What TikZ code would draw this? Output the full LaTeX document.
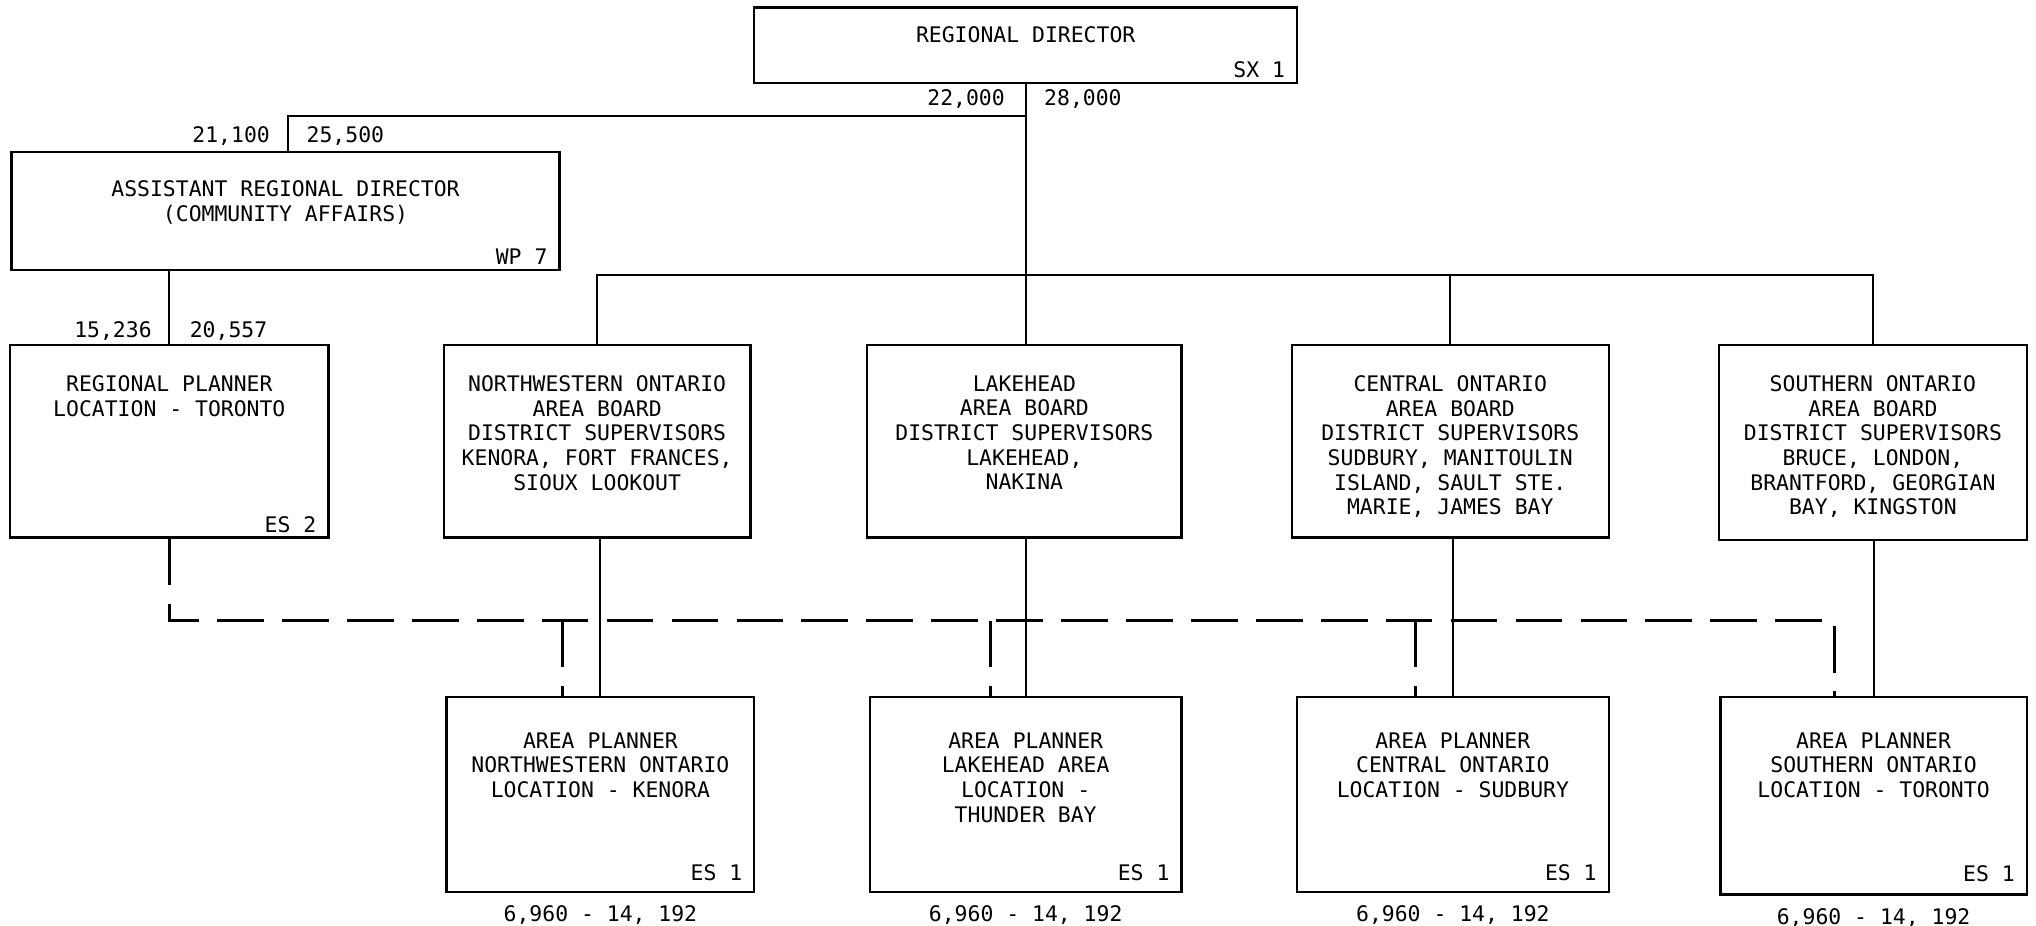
\documentclass[tikz,border=0pt]{standalone}
\usepackage{fontspec}
\setmonofont{DejaVu Sans Mono}
\begin{document}
\begin{tikzpicture}[x=1pt,y=-1pt,
  box/.style={draw, line width=1.8pt, inner sep=0pt, anchor=north west},
  txt/.style={font=\ttfamily\fontsize{16.5}{19}\selectfont, align=center, inner sep=0pt, anchor=north},
  grade/.style={font=\ttfamily\fontsize{16.5}{19}\selectfont, inner sep=0pt, anchor=base east},
  payl/.style={font=\ttfamily\fontsize{16.5}{19}\selectfont, inner sep=0pt, anchor=base east},
  payr/.style={font=\ttfamily\fontsize{16.5}{19}\selectfont, inner sep=0pt, anchor=base west},
  pay/.style={font=\ttfamily\fontsize{16.5}{19}\selectfont, inner sep=0pt, anchor=base},
  link/.style={line width=1.5pt},
  planlink/.style={line width=2.2pt, dash pattern=on 36pt off 14pt}
]
\useasboundingbox (0,0) rectangle (1568,713);

% --- boxes ---
\node[box, minimum width=418pt, minimum height=58pt] (dir) at (580,5) {};
\node[box, minimum width=422pt, minimum height=91pt] (ast) at (8,116) {};
\node[box, minimum width=245pt, minimum height=148pt] (rp) at (7,265) {};
\node[box, minimum width=236pt, minimum height=148pt] (nw) at (341,265) {};
\node[box, minimum width=242pt, minimum height=148pt] (lk) at (667,265) {};
\node[box, minimum width=244pt, minimum height=148pt] (ce) at (994,265) {};
\node[box, minimum width=237pt, minimum height=150pt] (so) at (1323,265) {};
\node[box, minimum width=237pt, minimum height=150pt] (nwp) at (343,536) {};
\node[box, minimum width=240pt, minimum height=150pt] (lkp) at (669,536) {};
\node[box, minimum width=240pt, minimum height=150pt] (cep) at (998,536) {};
\node[box, minimum width=236pt, minimum height=152pt] (sop) at (1324,536) {};

% --- box texts ---
\node[txt] (dirt) at ([yshift=-15pt]dir.north) {REGIONAL DIRECTOR};
\node[grade] (dirg) at ([xshift=-10pt,yshift=5pt]dir.south east) {SX 1};

\node[txt] (astt) at ([yshift=-23pt]ast.north) {ASSISTANT REGIONAL DIRECTOR\\(COMMUNITY AFFAIRS)};
\node[grade] (astg) at ([xshift=-10pt,yshift=5pt]ast.south east) {WP 7};

\node[txt] (rpt) at ([yshift=-24pt]rp.north) {REGIONAL PLANNER\\LOCATION - TORONTO};
\node[grade] (rpg) at ([xshift=-10pt,yshift=5pt]rp.south east) {ES 2};

\node[txt] (nwt) at ([yshift=-24pt]nw.north) {NORTHWESTERN ONTARIO\\AREA BOARD\\DISTRICT SUPERVISORS\\KENORA, FORT FRANCES,\\SIOUX LOOKOUT};
\node[txt] (lkt) at ([yshift=-24pt]lk.north) {LAKEHEAD\\AREA BOARD\\DISTRICT SUPERVISORS\\LAKEHEAD,\\NAKINA};
\node[txt] (cet) at ([yshift=-24pt]ce.north) {CENTRAL ONTARIO\\AREA BOARD\\DISTRICT SUPERVISORS\\SUDBURY, MANITOULIN\\ISLAND, SAULT STE.\\MARIE, JAMES BAY};
\node[txt] (sot) at ([yshift=-24pt]so.north) {SOUTHERN ONTARIO\\AREA BOARD\\DISTRICT SUPERVISORS\\BRUCE, LONDON,\\BRANTFORD, GEORGIAN\\BAY, KINGSTON};

\node[txt] (nwpt) at ([yshift=-28pt]nwp.north) {AREA PLANNER\\NORTHWESTERN ONTARIO\\LOCATION - KENORA};
\node[txt] (lkpt) at ([yshift=-28pt]lkp.north) {AREA PLANNER\\LAKEHEAD AREA\\LOCATION -\\THUNDER BAY};
\node[txt] (cept) at ([yshift=-28pt]cep.north) {AREA PLANNER\\CENTRAL ONTARIO\\LOCATION - SUDBURY};
\node[txt] (sopt) at ([yshift=-28pt]sop.north) {AREA PLANNER\\SOUTHERN ONTARIO\\LOCATION - TORONTO};
\node[grade] (nwpg) at ([xshift=-10pt,yshift=10pt]nwp.south east) {ES 1};
\node[grade] (lkpg) at ([xshift=-10pt,yshift=10pt]lkp.south east) {ES 1};
\node[grade] (cepg) at ([xshift=-10pt,yshift=10pt]cep.south east) {ES 1};
\node[grade] (sopg) at ([xshift=-10pt,yshift=11pt]sop.south east) {ES 1};

% --- salary ranges ---
\node[payl] (s1a) at (774,81) {22,000};
\node[payr] (s1b) at (804,81) {28,000};
\node[payl] (s2a) at (208,110) {21,100};
\node[payr] (s2b) at (236,110) {25,500};
\node[payl] (s3a) at (117,260) {15,236};
\node[payr] (s3b) at (146,260) {20,557};
\node[pay] (p1) at ([yshift=-22pt]nwp.south) {6,960 - 14, 192};
\node[pay] (p2) at ([yshift=-22pt]lkp.south) {6,960 - 14, 192};
\node[pay] (p3) at ([yshift=-22pt]cep.south) {6,960 - 14, 192};
\node[pay] (p4) at ([yshift=-22pt]sop.south) {6,960 - 14, 192};

% --- solid reporting lines ---
\coordinate (asty) at (0,89);
\coordinate (busy) at (0,212);
\draw[link] (dir.south) -- (dir.south |- lk.north);
\draw[link] (dir.south |- asty) -- (222,89) -- (222,116 |- ast.north);
\draw[link] (rp.north |- ast.south) -- (rp.north);
\draw[link] (nw.north) -- (nw.north |- busy) -- (so.north |- busy) -- (so.north);
\draw[link] (ce.north) -- (ce.north |- busy);
\draw[link] (nw.south -| nwp.north) -- (nwp.north);
\draw[link] (lk.south -| dir.south) -- (dir.south |- lkp.north);
\draw[link] (ce.south -| cep.north) -- (cep.north);
\draw[link] (so.south -| sop.north) -- (sop.north);

% --- dashed planning links ---
\coordinate (k1) at (433,478);
\coordinate (k2) at (763,478);
\coordinate (k3) at (1090,478);
\coordinate (k4) at (1413,478);
\draw[planlink] (rp.south) |- (k4) -- (k4 |- sop.north);
\draw[planlink] (k1) -- (k1 |- nwp.north);
\draw[planlink] (k2) -- (k2 |- lkp.north);
\draw[planlink] (k3) -- (k3 |- cep.north);
\end{tikzpicture}
\end{document}
